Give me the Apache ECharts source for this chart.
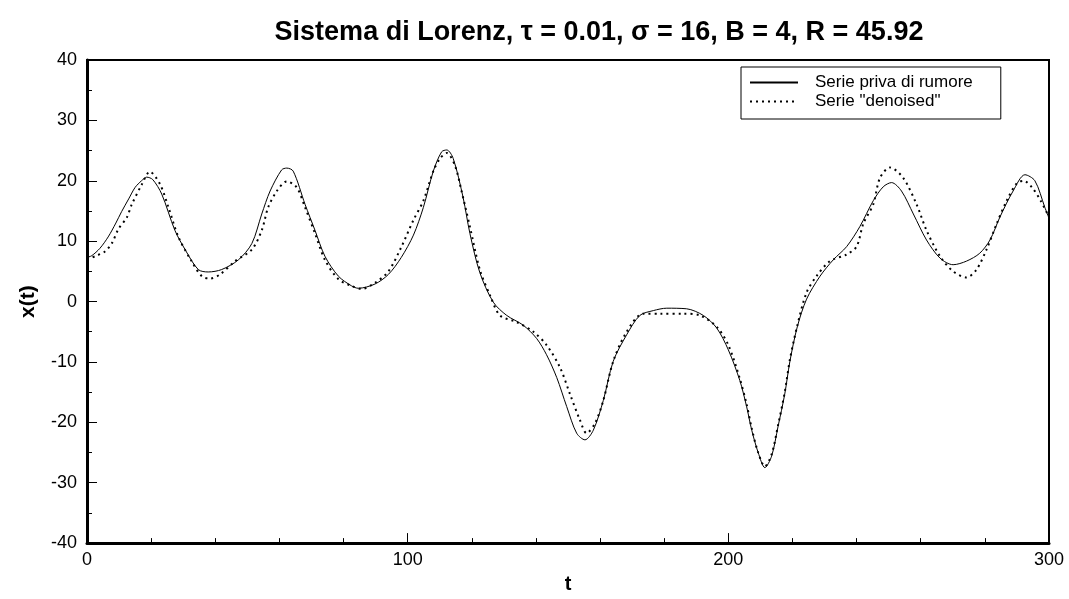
<!DOCTYPE html>
<html>
<head>
<meta charset="utf-8">
<script src="https://cdn.jsdelivr.net/npm/echarts@6/dist/echarts.min.js"></script>
<style>
html,body{margin:0;padding:0;background:#fff;}
#chart{width:1069px;height:599px;}
</style>
</head>
<body>
<div id="chart"></div>
<script>
// Data
const titleText = 'Sistema di Lorenz, \u03c4 = 0.01, \u03c3 = 16, B = 4, R = 45.92';
const seriesNames = ['Serie priva di rumore', 'Serie "denoised"'];

const tSolid = [0, 1.5, 4, 6.6, 9, 10.8, 13, 15, 17, 18.6, 20.5, 23.3, 27.4, 30.6, 34.7, 37.8, 42, 47.2, 51.4, 54.5, 57.1, 60.7, 62.3, 64.3, 68, 71.1, 74.2, 78.4, 82.5, 84.6, 89.8, 94, 98, 101.8, 104.9, 108, 110.6, 112.2, 114.2, 117.3, 119.4, 122.5, 126.7, 130.9, 136, 140.2, 143.3, 146.5, 149.6, 152.7, 155.3, 157.9, 161, 164.1, 168.3, 172.4, 176.6, 180.8, 187, 192.2, 196.4, 200, 203.6, 205.7, 207.3, 209.3, 211.4, 213.5, 215.5, 217.6, 219.2, 221.5, 224.4, 228.6, 232.7, 236.9, 241, 245.2, 248.3, 250.9, 254, 257.7, 261.8, 266, 270.1, 274.3, 278.4, 281.6, 284.7, 288.8, 292.5, 295.6, 298.7, 300];
const xSolid = [7.3, 7.6, 8.8, 10.7, 13, 14.9, 17, 18.9, 20, 20.6, 20.2, 17.8, 11.8, 8.6, 5.3, 4.9, 5.3, 6.9, 9.6, 14.5, 18.3, 21.8, 22.1, 21.6, 16.1, 11.8, 7.5, 4.2, 2.6, 2.2, 2.9, 4.5, 7.3, 11, 15.6, 21.6, 24.8, 25.1, 23.7, 17.2, 11.3, 4.8, -0.1, -2.3, -3.9, -6.1, -8.8, -12.6, -17.4, -21.8, -22.9, -21.3, -16.4, -9.9, -5.5, -2.3, -1.5, -1.1, -1.2, -2.3, -4.4, -8.0, -13.1, -17.4, -21.3, -25.0, -27.5, -25.6, -20.7, -15.3, -9.9, -4.2, 0.4, 4.2, 6.9, 9.1, 12.4, 16.7, 19.0, 19.7, 18.3, 14.5, 10.2, 7.2, 6.1, 6.7, 8.0, 10.2, 14.0, 18.3, 21.0, 20.0, 15.6, 13.8];

const tDenoised = [0, 3, 5.6, 7.7, 9.8, 12.4, 13.9, 17.1, 19.6, 22.8, 25.4, 28.5, 32.6, 35.8, 38.4, 41.5, 46.2, 51.4, 54.5, 56.5, 59.2, 62.3, 65.4, 68, 71.1, 74.2, 78.4, 82.5, 85.7, 89.8, 94, 98, 101.8, 104.9, 108, 110.1, 112.2, 114.7, 116.8, 119.4, 122.5, 125.7, 128.8, 134, 139.2, 143.3, 147.5, 150.6, 153.7, 155.8, 158.4, 161, 164.1, 168.3, 173.5, 178.7, 185.9, 191.2, 196.4, 200, 203.6, 205.7, 207.3, 209.3, 211.4, 213.5, 215.5, 217.6, 219.2, 221.5, 224.4, 227.5, 231.7, 236.9, 240, 242.1, 245.2, 247.3, 250.4, 254.5, 258.7, 261.8, 266, 270.1, 274.3, 277.4, 280.5, 283.7, 286.8, 290, 292.1, 294.7, 297.4, 300];
const xDenoised = [7.0, 7.6, 8.3, 9.6, 12, 13.9, 16, 19.4, 21.5, 19.4, 15.6, 10.7, 6.7, 4.2, 3.8, 4.5, 6.7, 8.6, 11.8, 15.6, 18.3, 19.9, 18.9, 15.6, 11.3, 6.9, 3.7, 2.6, 2.1, 3.1, 5.0, 9.0, 13.5, 16.7, 21.6, 23.7, 24.6, 22.6, 18.3, 12.4, 5.3, 1.0, -2.3, -3.4, -5.0, -7.2, -10.9, -15.3, -19.6, -21.8, -20.2, -16.4, -9.9, -5.0, -2.0, -2.0, -2.0, -2.3, -4.2, -7.2, -12.8, -17.0, -21.0, -25.0, -27.3, -25.3, -20.5, -15, -9.6, -4, 1.5, 4.2, 6.7, 7.8, 9.1, 12.9, 16.1, 20.5, 22.2, 20.5, 16.1, 11.8, 7.5, 5.0, 4.0, 5.3, 8.6, 12.9, 16.7, 19.6, 20.0, 18.9, 16.7, 14];

const xTicks = [0, 100, 200, 300];
const yTicks = [-40, -30, -20, -10, 0, 10, 20, 30, 40];

function pairs(t, v) { return t.map((x, i) => [x, v[i]]); }

const FONT = '"Liberation Sans", Arial, sans-serif';
const chart = echarts.init(document.getElementById('chart'), null, {renderer: 'canvas'});
chart.setOption({
  animation: false,
  backgroundColor: '#fff',
  title: {
    text: titleText,
    left: 594, top: 14, textAlign: 'center',
    textStyle: {fontFamily: FONT, fontWeight: 'bold', fontSize: 27, color: '#000'}
  },
  legend: {
    orient: 'vertical',
    left: 741, top: 67,
    padding: [7, 28, 9, 8],
    itemGap: 2,
    itemWidth: 48, itemHeight: 16,
    borderColor: '#000', borderWidth: 1,
    itemStyle: {color: 'transparent', borderWidth: 0, opacity: 0},
    textStyle: {fontFamily: FONT, fontSize: 17, color: '#000', padding: [0, 0, 0, 12]},
    data: seriesNames
  },
  grid: {
    left: 87, right: 20, top: 60, bottom: 46,
    show: true, borderColor: '#000', borderWidth: 2, backgroundColor: 'transparent'
  },
  xAxis: {
    type: 'value', min: xTicks[0], max: xTicks[xTicks.length - 1], interval: 100,
    name: 't', nameLocation: 'middle', nameGap: 26,
    nameTextStyle: {fontFamily: FONT, fontWeight: 'bold', fontSize: 20, color: '#000'},
    axisLine: {show: true, onZero: false, lineStyle: {color: '#000', width: 3}},
    axisTick: {show: true, inside: true, length: 10, lineStyle: {color: '#000', width: 1}},
    minorTick: {show: true, splitNumber: 5, length: 5, lineStyle: {color: '#000', width: 1}},
    splitLine: {show: false},
    axisLabel: {fontFamily: FONT, fontSize: 18, color: '#000', margin: 8}
  },
  yAxis: {
    type: 'value', min: yTicks[0], max: yTicks[yTicks.length - 1], interval: 10,
    name: 'x(t)', nameLocation: 'middle', nameGap: 48, nameRotate: 90,
    nameTextStyle: {fontFamily: FONT, fontWeight: 'bold', fontSize: 21, color: '#000'},
    axisLine: {show: true, onZero: false, lineStyle: {color: '#000', width: 3}},
    axisTick: {show: true, inside: true, length: 10, lineStyle: {color: '#000', width: 1}},
    minorTick: {show: true, splitNumber: 2, length: 5, lineStyle: {color: '#000', width: 1}},
    splitLine: {show: false},
    axisLabel: {fontFamily: FONT, fontSize: 18, color: '#000', margin: 10}
  },
  series: [
    {
      name: seriesNames[0], type: 'line', data: pairs(tSolid, xSolid),
      smooth: 0.3, showSymbol: false, symbol: 'none',
      lineStyle: {color: '#000', width: 1, type: 'solid'},
      itemStyle: {color: '#000'}
    },
    {
      name: seriesNames[1], type: 'line', data: pairs(tDenoised, xDenoised),
      smooth: 0.3, showSymbol: false, symbol: 'none',
      lineStyle: {color: '#000', width: 2, type: [2, 4]},
      itemStyle: {color: '#000'}
    }
  ]
});
</script>
</body>
</html>
